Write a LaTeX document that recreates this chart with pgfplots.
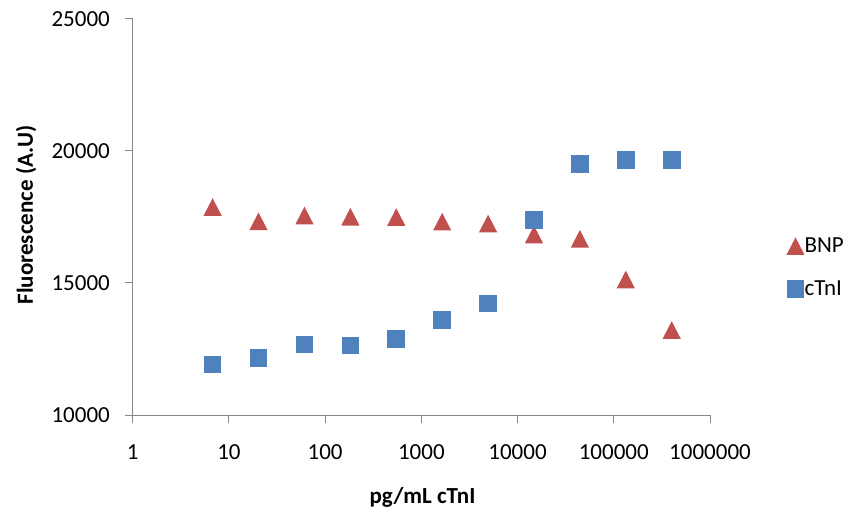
\documentclass[border=0pt]{standalone}
\usepackage{fontspec}
\setmainfont{Carlito}
\usepackage{pgfplots}
\pgfplotsset{compat=1.18}
\definecolor{bnp}{RGB}{192,80,77}
\definecolor{ctni}{RGB}{79,129,189}
\definecolor{axgray}{RGB}{134,134,134}
\pgfdeclareplotmark{tri}{%
  \pgfpathmoveto{\pgfpoint{0pt}{8.8pt}}%
  \pgfpathlineto{\pgfpoint{-9.1pt}{-8.8pt}}%
  \pgfpathlineto{\pgfpoint{9.1pt}{-8.8pt}}%
  \pgfpathclose\pgfusepathqfill}
\pgfdeclareplotmark{sq}{%
  \pgfpathrectangle{\pgfpoint{-8.8pt}{-8.8pt}}{\pgfpoint{17.6pt}{17.6pt}}%
  \pgfusepathqfill}
\begin{document}
\begin{tikzpicture}[x=1pt,y=1pt]
\useasboundingbox (-132.7,-99) rectangle (716.3,415);
\begin{axis}[
  at={(0,0)}, anchor=south west,
  scale only axis, width=577.3pt, height=396pt,
  xmode=log, xmin=1, xmax=1e6,
  ymin=10000, ymax=25000,
  scaled y ticks=false,
  axis lines*=left,
  axis line style={axgray, line width=1pt},
  every tick/.style={axgray, line width=1pt},
  tick align=outside, major tick length=8pt,
  xminorticks=false,
  xtick={1,10,100,1000,10000,100000,1000000},
  xticklabels={1,10,100,1000,10000,100000,1000000},
  ytick={10000,15000,20000,25000},
  yticklabels={10000,15000,20000,25000},
  tick label style={font=\fontsize{23}{27}\selectfont, inner sep=0pt},
  xticklabel style={anchor=north, yshift=-21pt},
  yticklabel style={anchor=east, xshift=-14.7pt},
  clip=false,
  legend cell align=left,
  legend style={at={(1.132,0.4495)}, anchor=north west, draw=none, fill=none,
    inner sep=0pt, row sep=25pt, column sep=0pt,
    font=\fontsize{23}{27}\selectfont,
    nodes={inner sep=0pt}},
  legend image code/.code={%
    \path[draw=none,fill=none] (0pt,-9pt) rectangle (17pt,9pt);
    \draw[#1,mark repeat=2,mark phase=2] plot coordinates {(0pt,0pt)(8pt,0pt)(16pt,0pt)};},
]
\addplot[only marks, mark=tri, color=bnp] coordinates {
(6.77,17879) (20.3,17337) (61,17557) (183,17511) (549,17500) (1646,17322)
(4938,17254) (14815,16837) (44444,16674) (133333,15133) (400000,13220)};
\addlegendentry{BNP}
\addplot[only marks, mark=sq, color=ctni] coordinates {
(6.77,11913) (20.3,12167) (61,12678) (183,12633) (549,12886) (1646,13591)
(4938,14223) (14815,17375) (44444,19500) (133333,19667) (400000,19667)};
\addlegendentry{cTnI}
\end{axis}
\node[anchor=base, font=\fontsize{23}{27}\selectfont\bfseries] at (289.8,-88.3) {pg/mL cTnI};
\node[rotate=90, anchor=base, font=\fontsize{23}{27}\selectfont\bfseries] at (-99.7,200) {Fluorescence (A.U)};
\end{tikzpicture}
\end{document}
